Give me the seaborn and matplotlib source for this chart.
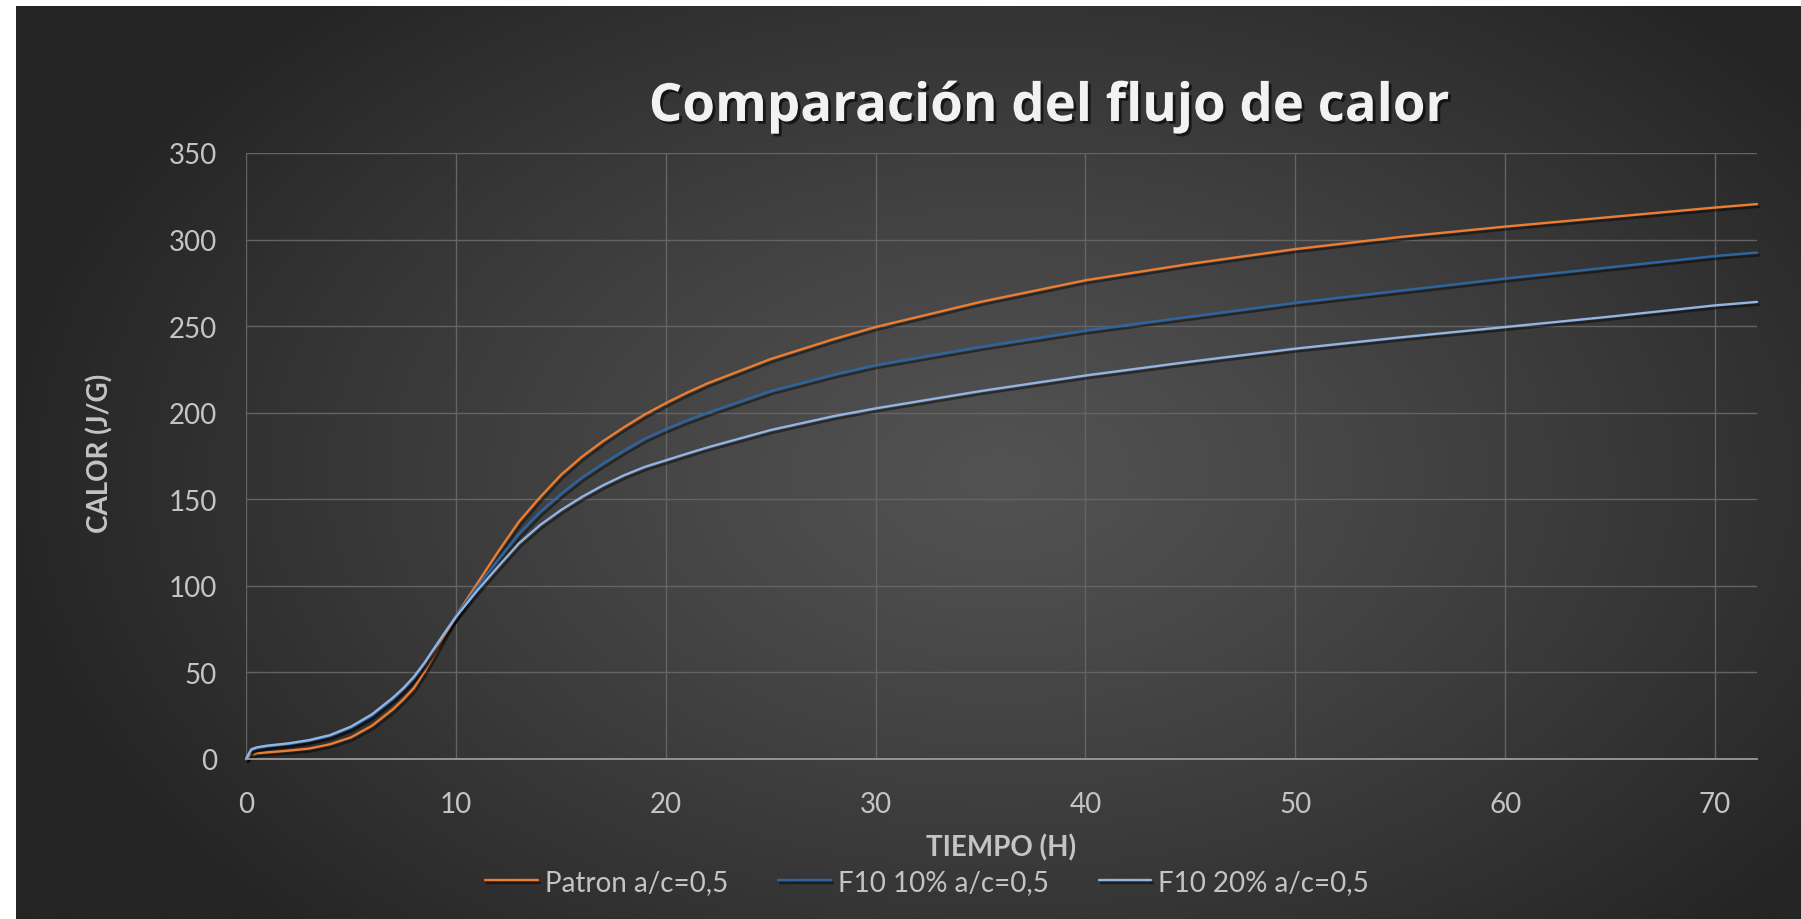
import numpy as np
import pandas as pd
import matplotlib
matplotlib.use("Agg")
import matplotlib.pyplot as plt
import matplotlib.patheffects as pe
import seaborn as sns

# datos
tiempo = [0, 0.25, 0.5, 1, 2, 3, 4, 5, 6, 7, 7.5, 8, 8.5, 9, 9.5, 10, 11, 12, 13, 14, 15,
          16, 17, 18, 19, 20, 21, 22, 25, 28, 30, 35, 40, 45, 50, 55, 60, 65, 70, 72]
patron = [0, 2.3, 3.3, 3.8, 4.8, 6, 8.5, 12.5, 19.2, 28.7, 34.5, 41, 50.5, 61, 72, 82.5, 101, 119.5, 137, 151, 164,
          174.5, 183.5, 191.5, 199, 205.5, 211.5, 217, 231, 242.5, 249.5, 264, 276.5, 286, 294.5, 301.5,
          307.5, 313, 318.5, 320.5]
f10_10 = [0, 5, 6.2, 7.2, 8.5, 10.4, 13.2, 18, 25, 34.6, 40.3, 46.8, 55, 64.5, 73.5, 82.5, 99, 115, 130, 142.5, 153,
          162.5, 170.5, 178, 185, 190.5, 195.5, 200, 212.5, 222, 227.5, 238, 247.5, 255.5, 263.5, 270.5,
          277.5, 284, 290.5, 292.5]
f10_20 = [0, 5.6, 6.7, 7.7, 9, 10.9, 13.8, 18.7, 25.8, 35.4, 41, 47.5, 55.5, 64.5, 73.5, 82, 97, 111, 124.5, 135, 143.7,
          151.3, 158, 163.8, 168.7, 172.5, 176.3, 180, 190, 198, 202.5, 212.5, 221.5, 229.5, 237, 243.5,
          249.5, 255.5, 262, 264]
series = ["Patron a/c=0,5", "F10 10% a/c=0,5", "F10 20% a/c=0,5"]
colores = ["#ED7D31", "#2B66A3", "#94B4E2"]

sns.set_style("white")
plt.rcParams["font.family"] = ["Lato", "DejaVu Sans"]

df = pd.DataFrame({
    "t": tiempo * 3,
    "calor": patron + f10_10 + f10_20,
    "serie": [s for s in series for _ in tiempo],
})

W, H = 1801, 920
fig = plt.figure(figsize=(W / 100, H / 100), dpi=100, facecolor="white")

# fondo con degradado radial
bg = fig.add_axes([16 / W, 0, 1 - 16 / W, 1 - 7 / H], zorder=0)
yy, xx = np.mgrid[0:H - 7, 16:W]
r = np.sqrt(((xx - 1000) / 1000.0) ** 2 + ((yy - 470) / 640.0) ** 2)
r = np.clip(r, 0, 1) ** 1.2
c0, c1 = np.array([0x52, 0x52, 0x52]) / 255, np.array([0x25, 0x25, 0x25]) / 255
img = c0[None, None, :] + (c1 - c0)[None, None, :] * r[:, :, None]
bg.imshow(img, aspect="auto", extent=[0, 1, 0, 1], origin="upper")
bg.axis("off")

ax = fig.add_axes([246 / W, 160 / H, 1511 / W, 606 / H], zorder=1)
ax.patch.set_alpha(0)

sns.lineplot(data=df, x="t", y="calor", hue="serie", palette=colores, hue_order=series,
             sort=False, linewidth=1.7, ax=ax)
for ln in ax.lines:
    ln.set_path_effects([pe.SimpleLineShadow(offset=(1.5, -2), alpha=0.45, shadow_color="black"),
                         pe.Normal()])
    ln.set_clip_on(False)

ax.set_xlim(0, 72)
ax.set_ylim(0, 350)
ax.set_xticks(range(0, 71, 10))
ax.set_yticks(range(0, 351, 50))
ax.grid(True, color="#646464", linewidth=1.0)
ax.set_axisbelow(True)
for s in ["top", "right", "left"]:
    ax.spines[s].set_visible(False)
ax.spines["bottom"].set_color("#9a9a9a")
ax.spines["bottom"].set_linewidth(1.3)
ax.tick_params(length=0, labelsize=20, labelcolor="#c4c4c4")
ax.tick_params(axis="y", pad=21)
ax.tick_params(axis="x", pad=23)

ax.set_xlabel("")
ax.set_ylabel("")
fig.text(1001 / W, 1 - 848 / H, "TIEMPO (H)", ha="center", va="center", fontsize=20,
         fontweight="bold", color="#c4c4c4")
fig.text(100 / W, 1 - 453 / H, "CALOR (J/G)", ha="center", va="center", fontsize=20,
         fontweight="bold", color="#c4c4c4", rotation=90)

fig.text(1049 / W, 1 - 108 / H, "Comparación del flujo de calor", ha="center", va="center",
         fontsize=38, fontweight="bold", color="#f2f2f2", family=["Open Sans", "DejaVu Sans"],
         path_effects=[pe.SimplePatchShadow(offset=(2, -2), alpha=0.6, shadow_rgbFace="black"),
                       pe.Normal()])

handles, labels = ax.get_legend_handles_labels()
ax.get_legend().remove()
leg = fig.legend(handles, labels, loc="center", bbox_to_anchor=(927 / W, 1 - 883 / H), ncol=3,
                 frameon=False, fontsize=20, handlelength=1.9, handletextpad=0.25,
                 columnspacing=1.8, labelcolor="#c4c4c4")
for h in leg.get_lines():
    h.set_linewidth(1.7)

fig.savefig("out.png", dpi=100, facecolor="white")
